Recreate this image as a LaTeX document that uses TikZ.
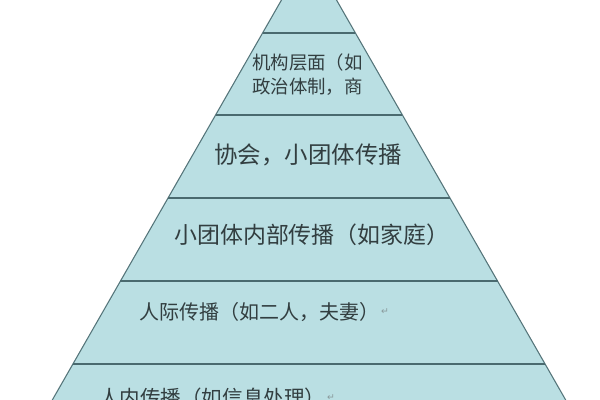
\documentclass[tikz,border=0pt]{standalone}
\usepackage{fontspec}
\newfontfamily\cjk{Noto Sans CJK SC}
\newfontfamily\symf{DejaVu Sans}
\definecolor{bandfill}{HTML}{BADFE3}
\definecolor{edgecol}{HTML}{55757A}
\definecolor{sepcol}{HTML}{4A6A6F}
\definecolor{txtcol}{HTML}{323E40}
\definecolor{markcol}{HTML}{8A9A9C}
\begin{document}
\begin{tikzpicture}[x=0.75pt,y=-0.75pt,
  sep/.style={draw=sepcol,line width=1.6pt},
  lbl/.style={anchor=west,inner sep=0pt,text=txtcol,font=\cjk},
  retmark/.style={text=markcol,font=\symf\fontsize{7}{8}\selectfont}]
\useasboundingbox (0,0) rectangle (600,400);
\clip (0,0) rectangle (600,400);
\fill[white] (0,0) rectangle (600,400);
% pyramid: apex (309,-48), half-width slope 0.573
\coordinate (apex) at (309,-48);
\coordinate (bl) at (52.3,400);
\coordinate (br) at (565.7,400);
\fill[bandfill] (apex) -- (bl) -- (br) -- cycle;
\draw[edgecol,line width=0.8pt] (bl) -- (apex) -- (br);
% separators
\foreach \yy/\nm in {33/s1,115/s2,198/s3,281/s4,364/s5}{
  \pgfmathsetmacro{\hw}{0.573*(\yy+48)}
  \coordinate (\nm l) at ({309-\hw},\yy);
  \coordinate (\nm r) at ({309+\hw},\yy);
  \draw[sep] (\nm l) -- (\nm r);
}
% labels
\node[lbl,align=left,font=\cjk\fontsize{13.8}{18}\selectfont] (n2) at (252,75)
  {机构层面（如\\政治体制，商};
\node[lbl,font=\cjk\fontsize{17.6}{20}\selectfont] (n3) at (214,155) {协会，小团体传播};
\node[lbl,font=\cjk\fontsize{17.2}{20}\selectfont] (n4) at (174,235) {小团体内部传播（如家庭）};
\node[lbl,font=\cjk\fontsize{15}{18}\selectfont] (n5) at (139,312) {人际传播（如二人，夫妻）};
\node[retmark,anchor=west,inner sep=0pt] (m5) at ([xshift=1pt]n5.east) {↵};
\node[lbl,font=\cjk\fontsize{15.4}{18}\selectfont] (n6) at (99,398) {人内传播（如信息处理）};
\node[retmark,anchor=west,inner sep=0pt] (m6) at ([xshift=1pt]n6.east) {↵};
\end{tikzpicture}
\end{document}
